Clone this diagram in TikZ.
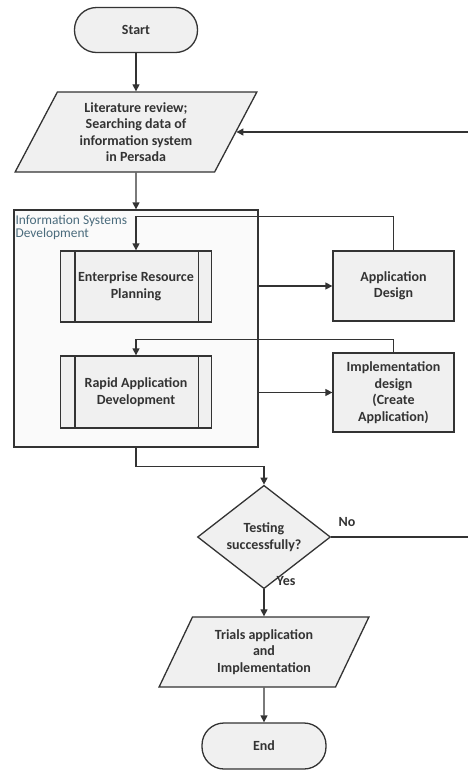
\documentclass[tikz,border=0pt]{standalone}
\usepackage{fontspec}
\setmainfont{Carlito}
\usetikzlibrary{shapes.geometric,arrows.meta}
\definecolor{ln}{HTML}{333333}
\definecolor{txt}{HTML}{333333}
\definecolor{lblc}{HTML}{4A6B7C}
\definecolor{boxfill}{HTML}{F0F0F0}
\definecolor{contfill}{HTML}{FAFAFA}
\begin{document}
\begin{tikzpicture}[x=1pt,y=-1pt,
  base/.style={draw=ln, line width=1.3pt, fill=boxfill, text=txt,
    font=\fontsize{14}{16.5}\selectfont\bfseries, align=center, inner sep=0pt},
  term/.style={base, rectangle, rounded corners=22pt, minimum width=123pt, minimum height=45pt},
  io/.style={base, trapezium, trapezium left angle=63, trapezium right angle=117,
    trapezium stretches=true},
  proc/.style={base, rectangle, minimum width=121pt},
  subproc/.style={base, rectangle, minimum width=151pt, minimum height=71pt},
  decision/.style={base, diamond, minimum width=133pt, minimum height=77pt},
  container/.style={draw=ln, line width=1.3pt, fill=contfill, rectangle,
    minimum width=244pt, minimum height=237pt, inner sep=0pt},
  grouplbl/.style={text=lblc, font=\fontsize{13.4}{12.5}\selectfont, align=left, inner sep=0pt},
  edgelbl/.style={text=txt, font=\fontsize{14}{16.5}\selectfont\bfseries, inner sep=0pt},
  conn/.style={draw=ln, line width=1.3pt, -{Triangle[length=7pt,width=7pt]}},
  plain/.style={draw=ln, line width=1.3pt}
]
\useasboundingbox (0,0) rectangle (467,772);
\fill[white] (0,0) rectangle (467,772);

\node[container] (isd) at (136,328.5) {};
\node[grouplbl, anchor=north west] (isdlbl) at ([xshift=2pt,yshift=-6pt]isd.north west) {Information Systems\\Development};

\node[term] (start) at (136,30) {Start};
\node[io, minimum width=242pt, minimum height=80pt] (lit) at (136,132) {Literature review;\\Searching data of\\information system\\in Persada};
\node[subproc] (erp) at (136,286.5) {Enterprise Resource\\Planning};
\node[subproc, minimum height=72pt] (rad) at (136,392) {Rapid Application\\Development};
\node[proc, minimum height=70pt] (app) at (393.5,286) {Application\\Design};
\node[proc, minimum height=79pt] (impl) at (393.5,392.5) {Implementation\\design\\(Create\\Application)};
\node[decision] (dec) at (264,537) {Testing\\successfully?};
\node[io, minimum width=210pt, minimum height=70pt] (trial) at (264,652) {Trials application\\and\\Implementation};
\node[term, minimum width=124pt, minimum height=46pt] (end) at (264,746) {End};
\node[edgelbl] (no) at (347,522) {No};
\node[edgelbl] (yes) at (286,581) {Yes};
\coordinate (fb) at (474,537);

\foreach \n in {erp,rad}{
  \draw[plain] ([xshift=15pt]\n.north west) -- ([xshift=15pt]\n.south west);
  \draw[plain] ([xshift=-14pt]\n.north east) -- ([xshift=-14pt]\n.south east);
}

\draw[conn] (start) -- (lit);
\draw[conn] (lit) -- (isd);
\draw[conn] (app.north) |- ([yshift=34pt]erp.north) -- (erp.north);
\draw[conn] (isd.east |- app.west) -- (app.west);
\draw[conn] (impl.north) |- ([yshift=16pt]rad.north) -- (rad.north);
\draw[conn] (isd.east |- impl.west) -- (impl.west);
\draw[conn] (isd.south) |- ([yshift=18pt]dec.north) -- (dec.north);
\draw[conn] (dec) -- (trial);
\draw[conn] (trial) -- (end);
\draw[conn] (dec.east) -- (fb) |- (lit.east);
\end{tikzpicture}
\end{document}
